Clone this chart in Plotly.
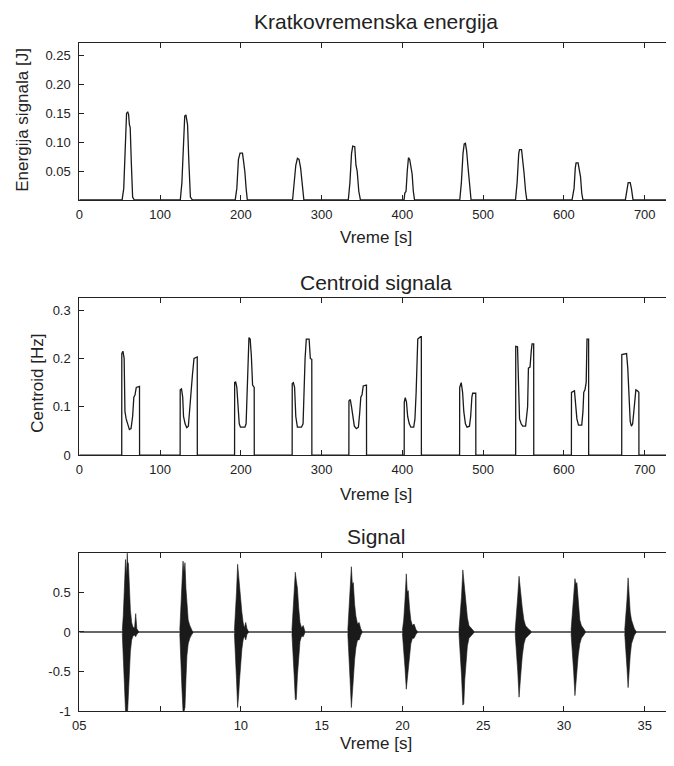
import plotly.graph_objects as go

# ---- data ---------------------------------------------------------------
# short-time energy (frame index, value)
energy_t = [0, 53, 55, 57, 58.5, 60, 61, 62, 63, 64.5, 66, 68,
            125, 127, 129, 130.5, 132, 133, 134, 135.5, 137.5, 140,
            193, 195, 197, 199, 202, 203.5, 205, 206.5, 208,
            264, 266, 268, 270, 272, 274, 276, 278,
            333, 335, 337, 338.5, 341, 342.5, 344, 346, 348,
            402, 403, 404.5, 406, 407.5, 409, 411, 412, 413.5, 415,
            471, 473, 475, 476.5, 478, 479.5, 481, 483, 485,
            540, 542, 544, 545, 547.5, 549, 550.5, 552.5, 554,
            610, 611.5, 612.5, 614, 615, 617.5, 619, 620.5, 622, 623.5,
            676, 678, 679.5, 682, 683.5, 685.5, 740]
energy_v = [0, 0, 0.02, 0.09, 0.15, 0.152, 0.148, 0.13, 0.125, 0.06, 0.005, 0,
            0, 0.03, 0.11, 0.145, 0.147, 0.135, 0.13, 0.07, 0.005, 0,
            0, 0.02, 0.07, 0.081, 0.081, 0.065, 0.048, 0.02, 0,
            0, 0.025, 0.06, 0.072, 0.07, 0.055, 0.03, 0,
            0, 0.03, 0.08, 0.093, 0.092, 0.06, 0.05, 0.015, 0,
            0, 0.012, 0.015, 0.05, 0.073, 0.07, 0.055, 0.045, 0.015, 0,
            0, 0.03, 0.08, 0.097, 0.098, 0.085, 0.06, 0.025, 0,
            0, 0.03, 0.08, 0.087, 0.087, 0.06, 0.048, 0.015, 0,
            0, 0.018, 0.02, 0.055, 0.064, 0.064, 0.048, 0.04, 0.012, 0,
            0, 0.02, 0.03, 0.03, 0.02, 0, 0]

# spectral centroid (frame index, value)
centroid_t = [0, 52.5, 52.6, 54, 55.5, 56.5, 58, 60, 62, 64, 66, 67.5, 69, 70.5, 73.5, 74.5, 74.6,
              124.8, 124.9, 126.5, 128, 129, 131, 133, 135, 137, 138.5, 140, 142, 145, 146, 146.1,
              192.2, 192.3, 193.5, 195, 196.5, 198, 199.5, 205, 206.5, 208, 210, 211.5, 213, 214.5, 216.5, 216.6,
              263.5, 263.6, 265, 266.5, 268, 270, 275, 277, 278, 279.5, 281, 284.5, 286, 287.8, 287.9,
              333.7, 333.8, 335.5, 337, 338.5, 340.5, 343, 345.5, 347, 348.5, 350, 351.5, 355, 355.5, 355.6,
              402.2, 402.3, 403.5, 405, 406.5, 408.5, 410.5, 414, 415.5, 417, 419, 422.5, 423.4, 423.5,
              470.8, 470.9, 472.8, 474.5, 476, 478, 480, 483, 484.5, 486, 487, 490.8, 490.9,
              540.2, 540.3, 542.5, 543.5, 545, 547, 549, 552.5, 554, 555, 556, 558, 559.5, 560.5, 562.5, 562.6,
              609.2, 609.3, 613, 614.5, 616, 618, 622, 623.5, 624.5, 626, 627.5, 628.5, 630.5, 630.6,
              671.5, 671.6, 677.5, 679, 680.5, 682, 683.5, 685, 686.5, 688, 689, 691, 692.7, 692.8,
              734, 734.1, 740]
centroid_v = [0, 0, 0.21, 0.215, 0.2, 0.09, 0.075, 0.065, 0.053, 0.055, 0.08, 0.12, 0.125, 0.14, 0.142, 0.142, 0,
              0, 0.135, 0.137, 0.12, 0.08, 0.065, 0.057, 0.06, 0.11, 0.15, 0.165, 0.2, 0.203, 0.203, 0,
              0, 0.15, 0.152, 0.14, 0.1, 0.065, 0.058, 0.058, 0.065, 0.13, 0.243, 0.24, 0.205, 0.145, 0.14, 0,
              0, 0.148, 0.15, 0.14, 0.08, 0.058, 0.058, 0.065, 0.13, 0.2, 0.24, 0.24, 0.2, 0.198, 0,
              0, 0.112, 0.115, 0.1, 0.08, 0.06, 0.055, 0.058, 0.085, 0.12, 0.125, 0.143, 0.145, 0.145, 0,
              0, 0.11, 0.119, 0.11, 0.08, 0.065, 0.058, 0.058, 0.075, 0.13, 0.24, 0.245, 0.245, 0,
              0, 0.14, 0.15, 0.13, 0.09, 0.065, 0.058, 0.06, 0.08, 0.12, 0.128, 0.128, 0,
              0, 0.225, 0.224, 0.13, 0.075, 0.065, 0.06, 0.06, 0.085, 0.1, 0.18, 0.182, 0.215, 0.23, 0.23, 0,
              0, 0.13, 0.133, 0.1, 0.075, 0.062, 0.062, 0.09, 0.13, 0.135, 0.15, 0.24, 0.24, 0,
              0, 0.208, 0.21, 0.18, 0.11, 0.07, 0.06, 0.065, 0.09, 0.13, 0.135, 0.133, 0.13, 0,
              0, 0.265, 0.265]

# signal bursts: time [s], upper and lower envelope
burst_t = [
    [2.66, 2.72, 2.79, 2.86, 2.92, 2.97, 2.99, 3.04, 3.10, 3.16, 3.24, 3.32, 3.42, 3.49, 3.56, 3.66],
    [6.22, 6.28, 6.35, 6.42, 6.48, 6.54, 6.60, 6.66, 6.74, 6.84, 6.94, 7.04],
    [9.60, 9.66, 9.73, 9.80, 9.86, 9.92, 9.98, 10.06, 10.14, 10.22, 10.30, 10.38, 10.46],
    [13.16, 13.22, 13.30, 13.37, 13.43, 13.50, 13.58, 13.66, 13.76, 13.86, 13.96],
    [16.62, 16.68, 16.76, 16.84, 16.90, 16.96, 17.04, 17.12, 17.22, 17.32, 17.42, 17.50],
    [20.00, 20.08, 20.16, 20.24, 20.30, 20.36, 20.44, 20.52, 20.62, 20.72, 20.84, 20.92],
    [23.50, 23.58, 23.66, 23.74, 23.80, 23.86, 23.94, 24.02, 24.12, 24.22, 24.34, 24.42],
    [26.98, 27.06, 27.14, 27.22, 27.28, 27.34, 27.42, 27.52, 27.62, 27.74, 27.86, 27.96],
    [30.44, 30.52, 30.60, 30.68, 30.74, 30.80, 30.88, 30.98, 31.08, 31.20, 31.32],
    [33.76, 33.82, 33.90, 33.97, 34.03, 34.10, 34.18, 34.26, 34.36, 34.46],
]
burst_up = [
    [0.02, 0.2, 0.55, 0.91, 0.7, 1.0, 0.88, 0.86, 0.5, 0.28, 0.12, 0.06, 0.05, 0.23, 0.04, 0.01],
    [0.02, 0.25, 0.6, 0.89, 0.75, 0.87, 0.55, 0.3, 0.15, 0.08, 0.04, 0.01],
    [0.02, 0.2, 0.5, 0.85, 0.7, 0.6, 0.45, 0.25, 0.12, 0.05, 0.12, 0.04, 0.01],
    [0.02, 0.2, 0.5, 0.75, 0.65, 0.55, 0.3, 0.12, 0.05, 0.08, 0.01],
    [0.02, 0.2, 0.5, 0.82, 0.6, 0.62, 0.35, 0.2, 0.1, 0.12, 0.04, 0.01],
    [0.02, 0.15, 0.4, 0.73, 0.5, 0.52, 0.3, 0.15, 0.08, 0.1, 0.03, 0.01],
    [0.02, 0.2, 0.45, 0.78, 0.65, 0.6, 0.35, 0.18, 0.08, 0.06, 0.03, 0.01],
    [0.02, 0.2, 0.45, 0.7, 0.55, 0.5, 0.3, 0.15, 0.08, 0.05, 0.03, 0.01],
    [0.02, 0.2, 0.45, 0.67, 0.6, 0.62, 0.35, 0.15, 0.08, 0.04, 0.01],
    [0.02, 0.15, 0.4, 0.68, 0.4, 0.25, 0.15, 0.1, 0.04, 0.01],
]
burst_lo = [
    [-0.02, -0.25, -0.65, -1.0, -1.0, -1.0, -1.0, -0.92, -0.55, -0.25, -0.1, -0.05, -0.04, -0.06, -0.03, -0.01],
    [-0.02, -0.3, -0.7, -1.0, -1.0, -0.95, -0.6, -0.3, -0.15, -0.08, -0.04, -0.01],
    [-0.02, -0.25, -0.6, -0.95, -0.8, -0.6, -0.4, -0.22, -0.1, -0.05, -0.1, -0.03, -0.01],
    [-0.02, -0.25, -0.55, -0.85, -0.85, -0.55, -0.3, -0.12, -0.05, -0.06, -0.01],
    [-0.02, -0.25, -0.6, -0.95, -0.85, -0.6, -0.35, -0.2, -0.1, -0.1, -0.04, -0.01],
    [-0.02, -0.2, -0.45, -0.72, -0.65, -0.5, -0.3, -0.15, -0.08, -0.08, -0.03, -0.01],
    [-0.02, -0.25, -0.55, -0.92, -0.9, -0.6, -0.35, -0.18, -0.08, -0.06, -0.03, -0.01],
    [-0.02, -0.22, -0.5, -0.82, -0.75, -0.5, -0.3, -0.15, -0.08, -0.05, -0.03, -0.01],
    [-0.02, -0.22, -0.5, -0.8, -0.7, -0.5, -0.3, -0.15, -0.08, -0.04, -0.01],
    [-0.02, -0.2, -0.45, -0.7, -0.5, -0.3, -0.15, -0.1, -0.04, -0.01],
]
signal_span = [0, 36.8]

energy_ticks = [0.05, 0.10, 0.15, 0.20, 0.25]
centroid_ticks = [0, 0.1, 0.2, 0.3]
signal_yticks = [-1, -0.5, 0, 0.5]
frame_ticks = [0, 100, 200, 300, 400, 500, 600, 700]
time_ticks = [0, 5, 10, 15, 20, 25, 30, 35]
time_labels = ['05', '', '10', '15', '20', '25', '30', '35']

# ---- figure ----------------------------------------------------------------
# the page body has an 8px margin, so the figure is shifted by that amount
OFF = 8
W, H = 674 - OFF, 766 - OFF
FONT = 'Liberation Sans'
line_col = '#1a1a1a'
txt_col = '#222222'


def px(p):
    return (p - OFF) / W


def py(p):
    return 1 - (p - OFF) / H


fig = go.Figure()

fig.add_trace(go.Scatter(x=energy_t, y=energy_v, mode='lines',
                         line=dict(color=line_col, width=1.3), xaxis='x', yaxis='y'))
fig.add_trace(go.Scatter(x=centroid_t, y=centroid_v, mode='lines',
                         line=dict(color=line_col, width=1.3), xaxis='x2', yaxis='y2'))

fig.add_trace(go.Scatter(x=signal_span, y=[0, 0], mode='lines',
                         line=dict(color='#333333', width=1.6), xaxis='x3', yaxis='y3'))
for t, up, lo in zip(burst_t, burst_up, burst_lo):
    fig.add_trace(go.Scatter(x=t + t[::-1], y=up + lo[::-1], mode='lines', fill='toself',
                             fillcolor=line_col, line=dict(color=line_col, width=0.6),
                             xaxis='x3', yaxis='y3'))

x_dom = [px(73), px(673)]


def ydom(top, bottom):
    return [py(bottom), py(top)]


common = dict(showline=True, linecolor=txt_col, linewidth=1, mirror='allticks',
              ticks='inside', ticklen=5, tickcolor=txt_col, showgrid=False, zeroline=False,
              tickfont=dict(family=FONT, size=13, color=txt_col))
xcommon = dict(common, ticklabelstandoff=2)
ycommon = dict(common, ticklabelstandoff=5)

fig.update_layout(
    width=W, height=H, margin=dict(l=0, r=0, t=0, b=0),
    paper_bgcolor='white', plot_bgcolor='white', showlegend=False,
    xaxis=dict(domain=x_dom, range=[0, 735], tickvals=frame_ticks, anchor='y', **xcommon),
    yaxis=dict(domain=ydom(43, 202), range=[0, 0.272], tickvals=energy_ticks,
               ticktext=['%.2f' % v for v in energy_ticks], anchor='x', **ycommon),
    xaxis2=dict(domain=x_dom, range=[0, 735], tickvals=frame_ticks, anchor='y2', **xcommon),
    yaxis2=dict(domain=ydom(301, 460), range=[0, 0.325], tickvals=centroid_ticks,
                ticktext=['0', '0.1', '0.2', '0.3'], anchor='x2', **ycommon),
    xaxis3=dict(domain=x_dom, range=[0, 36.75], tickvals=time_ticks, ticktext=time_labels,
                anchor='y3', **xcommon),
    yaxis3=dict(domain=ydom(559, 719), range=[-1, 0.99], tickvals=signal_yticks,
                ticktext=['-1', '-0.5', '0', '0.5'], anchor='x3', **ycommon),
)

xc = (73 + 673) / 2
annos = [
    ('Kratkovremenska energija', xc, 22, 21, 0),
    ('Centroid signala', xc, 285, 21, 0),
    ('Signal', xc, 542, 21, 0),
    ('Vreme [s]', xc, 240, 17, 0),
    ('Vreme [s]', xc, 500, 17, 0),
    ('Vreme [s]', xc, 751, 17, 0),
    ('Energija signala [J]', 16, 121, 17, -90),
    ('Centroid [Hz]', 30, 387, 17, -90),
]
for text, x, y, size, ang in annos:
    fig.add_annotation(text=text, x=px(x), y=py(y), xref='paper', yref='paper',
                       xanchor='center', yanchor='middle', showarrow=False, textangle=ang,
                       font=dict(family=FONT, size=size, color=txt_col))

fig.write_html("out.html")
